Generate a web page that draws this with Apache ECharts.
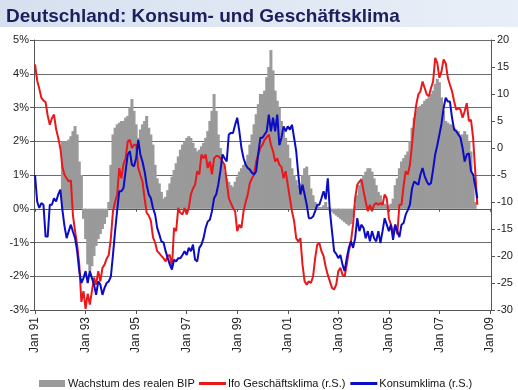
<!DOCTYPE html>
<html>
<head>
<meta charset="utf-8">
<script src="https://cdn.jsdelivr.net/npm/echarts@6/dist/echarts.min.js"></script>
<style>
html,body{margin:0;padding:0;background:#fff;}
#c{width:518px;height:390px;}
</style>
</head>
<body>
<div id="c"></div>
<script>
// ---- categories (monthly, Jan 1991 .. Jan 2009) ----
const monthNames = ['Jan','Feb','Mär','Apr','Mai','Jun','Jul','Aug','Sep','Okt','Nov','Dez'];
const firstYear = 1991, lastYear = 2009;
const categories = [];
for (let y = firstYear; y <= lastYear; y++) {
  for (let k = 0; k < 12; k++) {
    if (y === lastYear && k > 0) break;
    categories.push(monthNames[k] + ' ' + String(y).slice(2));
  }
}

// ---- Wachstum des realen BIP (% yoy, left axis) ----
const bip = [
  null,null,null,null,null,null,null,null,null,null,null,null,
  null,2.0,2.0,2.0,2.05,2.15,2.3,2.45,2.2,1.4,1.0,-0.3,
  -0.9,-1.65,-1.85,-1.7,-1.4,-1.1,-0.9,-0.75,-0.6,-0.45,-0.25,0.2,
  1.3,2.2,2.4,2.5,2.55,2.6,2.6,2.7,2.75,3.0,3.25,2.9,
  2.5,2.1,2.35,2.5,2.6,2.75,2.4,2.2,1.9,1.3,0.9,0.75,
  0.5,0.3,0.35,0.55,0.75,0.95,1.15,1.35,1.55,1.75,1.9,2.0,
  2.1,2.15,2.1,1.95,1.8,1.7,1.75,1.85,1.95,2.1,2.3,2.6,
  2.9,3.4,2.9,2.2,1.8,1.4,1.1,0.9,0.8,0.7,0.65,0.8,
  0.95,1.1,1.2,1.3,1.4,1.6,1.9,2.2,2.5,2.8,3.1,3.4,
  3.4,3.5,3.9,4.2,4.7,4.1,3.5,3.2,3.0,2.6,2.3,2.1,
  1.9,1.5,1.2,1.0,0.85,0.7,0.75,1.0,1.2,1.25,1.0,0.6,
  0.4,0.2,0.1,0.05,0.05,0.1,0.2,0.05,-0.05,-0.1,-0.15,-0.2,
  -0.25,-0.3,-0.35,-0.4,-0.45,-0.5,-0.45,-0.25,0.1,0.4,0.7,0.9,
  1.0,1.1,1.2,1.2,1.1,0.9,0.7,0.5,0.4,0.2,0.15,0.1,
  0.1,0.15,0.3,0.7,0.9,1.2,1.4,1.5,1.6,1.7,2.0,2.4,
  2.7,2.9,3.0,3.05,3.1,3.2,3.25,3.3,3.4,3.5,3.7,3.85,
  3.75,3.3,2.9,2.6,2.55,2.5,2.5,2.4,2.35,2.3,2.2,2.2,
  2.3,2.2,2.0,1.7,0.9,0.2
];

// ---- Ifo Geschäftsklima (right axis) ----
const ifo = [
  15.5,12.5,11.0,9.3,8.8,8.5,6.0,4.3,5.5,6.2,3.5,1.9,
  0.0,-3.5,-5.0,-5.6,-6.2,-6.0,-12.5,-15.4,-18.0,-21.6,-28.5,-26.5,
  -29.8,-27.0,-29.0,-26.5,-24.0,-25.3,-22.8,-24.7,-22.2,-21.6,-20.5,-19.8,
  -16.7,-11.7,-10.0,-8.6,-3.7,-5.6,-3.0,-1.9,1.2,1.5,0.0,0.6,
  0.6,-3.7,-5.0,-6.2,-9.3,-12.0,-12.5,-13.5,-16.5,-17.5,-19.1,-19.5,
  -20.0,-20.4,-21.0,-20.0,-19.8,-22.2,-14.8,-15.4,-11.1,-12.0,-12.3,-11.1,
  -12.3,-11.1,-8.6,-7.5,-6.8,-4.3,-4.9,-1.2,-1.9,-1.2,-3.7,-2.5,
  -4.9,-1.9,-1.5,-1.5,-1.9,-2.5,-3.1,-6.2,-9.3,-10.2,-11.1,-11.7,
  -15.4,-14.2,-14.8,-11.7,-10.0,-8.6,-6.5,-5.6,-4.9,-2.5,-1.2,0.0,
  0.6,1.5,2.0,2.5,0.6,-0.6,-2.5,-1.9,-3.1,-3.5,-5.6,-4.3,
  -6.8,-9.3,-11.7,-13.5,-16.7,-17.3,-16.7,-21.6,-24.7,-25.3,-24.7,-25.0,
  -23.8,-20.4,-17.9,-17.6,-19.1,-20.0,-22.0,-23.5,-24.7,-25.9,-26.2,-25.3,
  -22.8,-22.2,-23.5,-23.8,-21.6,-19.1,-17.3,-14.2,-9.3,-6.8,-6.2,-5.9,
  -8.0,-9.9,-11.7,-10.5,-11.7,-10.5,-10.2,-10.5,-10.2,-10.5,-8.6,-9.3,
  -13.0,-14.2,-16.0,-14.2,-16.0,-10.5,-10.5,-7.0,-4.3,-4.9,-3.1,0.6,
  4.9,8.0,9.9,10.5,12.3,11.1,9.9,9.6,11.1,12.3,16.7,15.7,
  13.0,14.2,16.4,15.7,13.0,11.7,10.5,8.6,7.1,7.4,7.1,5.6,
  6.8,8.3,5.0,5.2,1.9,-4.3,-10.5
];

// ---- Konsumklima (right axis) ----
const konsum = [
  -5.0,-9.9,-11.1,-10.2,-10.5,-16.4,-16.4,-10.5,-10.5,-9.3,-9.9,-8.6,
  -7.7,-11.5,-14.5,-16.7,-15.4,-14.2,-15.5,-16.7,-19.1,-22.8,-25.0,-24.1,
  -22.8,-25.0,-22.8,-24.1,-25.3,-27.2,-24.7,-25.3,-27.2,-25.9,-25.0,-24.7,
  -23.8,-19.8,-15.4,-11.5,-8.0,-8.0,-7.4,-4.3,-1.2,-0.6,-3.1,-3.4,
  -1.9,1.5,-1.2,-2.5,-4.3,-6.8,-8.6,-9.3,-11.1,-12.3,-14.8,-16.0,
  -17.3,-17.5,-19.1,-20.4,-21.6,-22.5,-20.7,-21.0,-20.4,-20.4,-19.8,-19.1,
  -19.8,-18.5,-19.1,-17.9,-20.7,-21.0,-18.5,-17.9,-16.7,-14.8,-13.6,-13.3,
  -11.7,-9.3,-8.6,-6.8,-4.3,-1.2,-1.9,-2.5,2.5,2.8,2.8,4.3,
  5.6,3.1,0.0,-1.9,-3.1,-3.7,-4.0,-4.6,-4.9,-4.3,-1.0,1.9,
  1.9,2.5,3.1,6.2,3.1,5.6,3.1,6.2,0.5,1.9,4.0,3.1,
  4.0,3.4,4.3,1.9,-0.6,-4.9,-8.6,-6.8,-8.6,-10.5,-13.0,-13.0,
  -12.7,-11.7,-10.5,-10.5,-9.3,-8.0,-9.5,-5.6,-11.7,-15.4,-19.1,-19.6,
  -20.4,-19.8,-21.6,-22.8,-20.4,-18.5,-17.3,-18.5,-16.7,-13.0,-15.4,-14.2,
  -14.8,-16.7,-15.4,-17.3,-15.4,-16.7,-17.3,-15.4,-17.6,-15.4,-13.0,-14.2,
  -15.4,-14.2,-17.0,-14.2,-15.4,-16.5,-14.2,-13.9,-12.3,-11.5,-10.5,-7.5,
  -6.2,-6.5,-6.8,-4.9,-3.7,-5.2,-6.2,-6.8,-6.5,-4.0,-1.2,0.5,
  2.5,4.5,7.4,9.3,8.6,8.6,5.6,3.4,3.1,2.5,1.9,0.0,
  -2.5,-1.2,-1.0,-4.3,-4.9,-7.0,-9.3
];

// ---- axis settings ----
const leftMin = -3, leftMax = 5, leftStep = 1;
const rightMin = -30, rightMax = 20, rightStep = 5;
const labelEvery = 24;

const FONT = 'Liberation Sans, Arial, sans-serif';
const chart = echarts.init(document.getElementById('c'));
chart.setOption({
  animation: false,
  backgroundColor: '#ffffff',
  graphic: [{
    type: 'rect', left: 0, top: 0, z: -10,
    shape: { width: 518, height: 27 },
    style: { fill: new echarts.graphic.LinearGradient(0, 0, 1, 0, [
      { offset: 0, color: '#d6e0ef' }, { offset: 1, color: '#e9eff8' }]) }
  }],
  title: {
    text: 'Deutschland: Konsum- und Geschäftsklima',
    left: 1, top: 2,
    textStyle: { fontFamily: FONT, fontSize: 19, fontWeight: 'bold', color: '#1b1f5c' }
  },
  grid: { left: 34, right: 27, top: 40, bottom: 80, containLabel: false },
  legend: [{
    data: ['Wachstum des realen BIP'],
    left: 34, top: 373, itemWidth: 26, itemHeight: 7, itemGap: 4,
    icon: 'rect',
    textStyle: { fontFamily: FONT, fontSize: 11, color: '#111', padding: [0, 0, 0, -2] }
  }, {
    data: ['Ifo Geschäftsklima (r.S.)', 'Konsumklima (r.S.)'],
    left: 194, top: 373, itemWidth: 27, itemHeight: 3, itemGap: 5,
    icon: 'rect',
    textStyle: { fontFamily: FONT, fontSize: 11, color: '#111', padding: [0, 0, 0, -3] }
  }],
  xAxis: [{
    type: 'category', data: categories, boundaryGap: true,
    axisLine: { onZero: false, lineStyle: { color: '#555', width: 1 } },
    axisTick: { show: true, interval: labelEvery - 1, alignWithLabel: true, length: 4, lineStyle: { color: '#555' } },
    axisLabel: {
      interval: labelEvery - 1, rotate: 90, margin: 7,
      fontFamily: FONT, fontSize: 12, color: '#222'
    },
    splitLine: { show: false }
  }, {
    type: 'category', data: categories, boundaryGap: true, position: 'bottom',
    axisLine: { onZero: true, onZeroAxisIndex: 0, lineStyle: { color: '#555', width: 1 } },
    axisTick: { show: true, interval: labelEvery - 1, alignWithLabel: true, length: 3, lineStyle: { color: '#555' } },
    axisLabel: { show: false },
    splitLine: { show: false }
  }],
  yAxis: [{
    type: 'value', min: leftMin, max: leftMax, interval: leftStep, position: 'left',
    axisLine: { show: true, lineStyle: { color: '#555' } },
    axisTick: { show: true, length: 4, lineStyle: { color: '#555' } },
    axisLabel: { formatter: '{value}%', fontFamily: FONT, fontSize: 11, color: '#222', margin: 5 },
    splitLine: { show: true, lineStyle: { color: '#6e6e6e', width: 1 } }
  }, {
    type: 'value', min: rightMin, max: rightMax, interval: rightStep, position: 'right',
    axisLine: { show: true, lineStyle: { color: '#555' } },
    axisTick: { show: true, length: 4, lineStyle: { color: '#555' } },
    axisLabel: { fontFamily: FONT, fontSize: 11, color: '#222', margin: 6 },
    splitLine: { show: false }
  }],
  series: [{
    name: 'Wachstum des realen BIP', type: 'bar', data: bip,
    xAxisIndex: 0, yAxisIndex: 0,
    barWidth: 3, barGap: '-100%',
    itemStyle: { color: '#9a9a9a' }
  }, {
    name: 'Ifo Geschäftsklima (r.S.)', type: 'line', data: ifo,
    xAxisIndex: 0, yAxisIndex: 1, symbol: 'none', showSymbol: false,
    lineStyle: { color: '#e8181c', width: 2 }, itemStyle: { color: '#e8181c' }
  }, {
    name: 'Konsumklima (r.S.)', type: 'line', data: konsum,
    xAxisIndex: 0, yAxisIndex: 1, symbol: 'none', showSymbol: false,
    lineStyle: { color: '#0c0cc4', width: 2 }, itemStyle: { color: '#0c0cc4' }
  }]
});
</script>
</body>
</html>
